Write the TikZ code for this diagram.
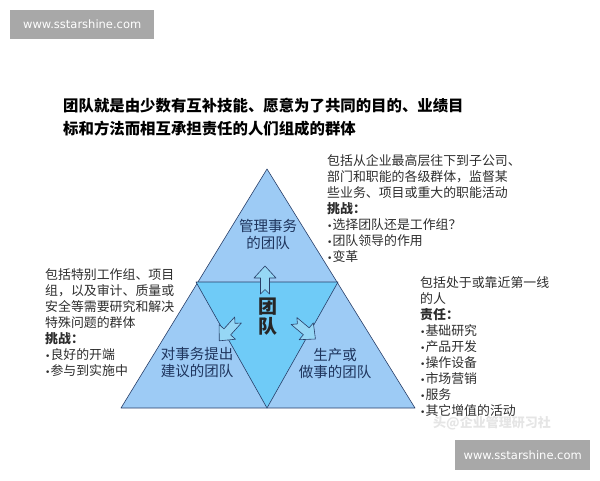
\documentclass[tikz,border=0pt]{standalone}
\usepackage{fontspec}
\newfontfamily\cjk{Noto Sans CJK SC}
\newfontfamily\webfont{DejaVu Sans}
\newcommand\dotitem{{\webfont\fontsize{9}{9}\selectfont•}}
\definecolor{outerblue}{RGB}{157,203,245}
\definecolor{innerblue}{RGB}{111,203,247}
\definecolor{arrowblue}{RGB}{150,215,245}
\definecolor{edgeblue}{RGB}{40,62,104}
\definecolor{labelblue}{RGB}{30,52,92}
\definecolor{notegray}{RGB}{45,45,45}
\definecolor{markgray}{RGB}{168,168,168}

\begin{document}
\begin{tikzpicture}[line cap=round,line join=round,x=1pt,y=-1pt,
	note/.style={anchor=north west,inner sep=0pt,align=left,text=notegray,font=\cjk\fontsize{12.9}{16}\selectfont},
	part/.style={align=center,inner sep=0pt,text=labelblue,font=\cjk\fontsize{14.5}{17}\selectfont},
	blockarrow/.style={draw=edgeblue,fill=arrowblue,line width=0.6pt},
	webmark/.style={fill=markgray,text=white,inner sep=0pt,font=\webfont\fontsize{11.5}{13}\selectfont}]
	\useasboundingbox (0,0) rectangle (600,480);
	% site marks
	\node[webmark,anchor=north west,minimum width=144pt,minimum height=29pt] (marktop) at (10,10) {www.sstarshine.com};
	\node[webmark,anchor=north west,minimum width=135pt,minimum height=30pt] (markbottom) at (455,440) {www.sstarshine.com};
	% title
	\node[anchor=north west,inner sep=0pt,align=left,font=\cjk\bfseries\fontsize{15.4}{23}\selectfont] (title) at (63,98)
		{团队就是由少数有互补技能、愿意为了共同的目的、业绩目\\标和方法而相互承担责任的人们组成的群体};
	% triangles
	\coordinate (apex) at (267,169);
	\coordinate (bl) at (121,408);
	\coordinate (br) at (415,408);
	\coordinate (il) at (196,282);
	\coordinate (ir) at (338,282);
	\coordinate (ib) at (267,408);
	\draw[edgeblue,fill=outerblue,line width=0.6pt] (apex) -- (br) -- (bl) -- cycle;
	\draw[edgeblue,fill=innerblue,line width=0.6pt] (il) -- (ir) -- (ib) -- cycle;
	% arrows
	\foreach \px/\py/\ang in {265/294/90,238/320/228,294/321/-40}
	\draw[blockarrow,shift={(\px,\py)},rotate=\ang] (0,-4.5) -- (16,-4.5) -- (16,-11) -- (28,0) -- (16,11) -- (16,4.5) -- (0,4.5) -- (4.5,0) -- cycle;
	% labels
	\node[part] (manage) at (268,234) {管理事务\\的团队};
	\node[part] (advise) at (197,363) {对事务提出\\建议的团队};
	\node[part] (produce) at (335,363) {生产或\\做事的团队};
	\node[align=center,inner sep=0pt,text=black!85,font=\cjk\bfseries\fontsize{19}{20}\selectfont] (team) at (268,317) {团\\队};
	% notes
	\node[note] (notemanage) at (327,154) {包括从企业最高层往下到子公司、\\部门和职能的各级群体，监督某\\些业务、项目或重大的职能活动\\\textbf{挑战：}\\\dotitem 选择团队还是工作组？\\\dotitem 团队领导的作用\\\dotitem 变革};
	\node[note] (noteadvise) at (45,268) {包括特别工作组、项目\\组，以及审计、质量或\\安全等需要研究和解决\\特殊问题的群体\\\textbf{挑战：}\\\dotitem 良好的开端\\\dotitem 参与到实施中};
	\node[note] (noteproduce) at (420,276) {包括处于或靠近第一线\\的人\\\textbf{责任：}\\\dotitem 基础研究\\\dotitem 产品开发\\\dotitem 操作设备\\\dotitem 市场营销\\\dotitem 服务\\\dotitem 其它增值的活动};
	\node[inner sep=0pt,text=black!10,font=\cjk\bfseries\fontsize{13}{14}\selectfont] (source) at (492,423) {头@企业管理研习社};
\end{tikzpicture}
\end{document}
